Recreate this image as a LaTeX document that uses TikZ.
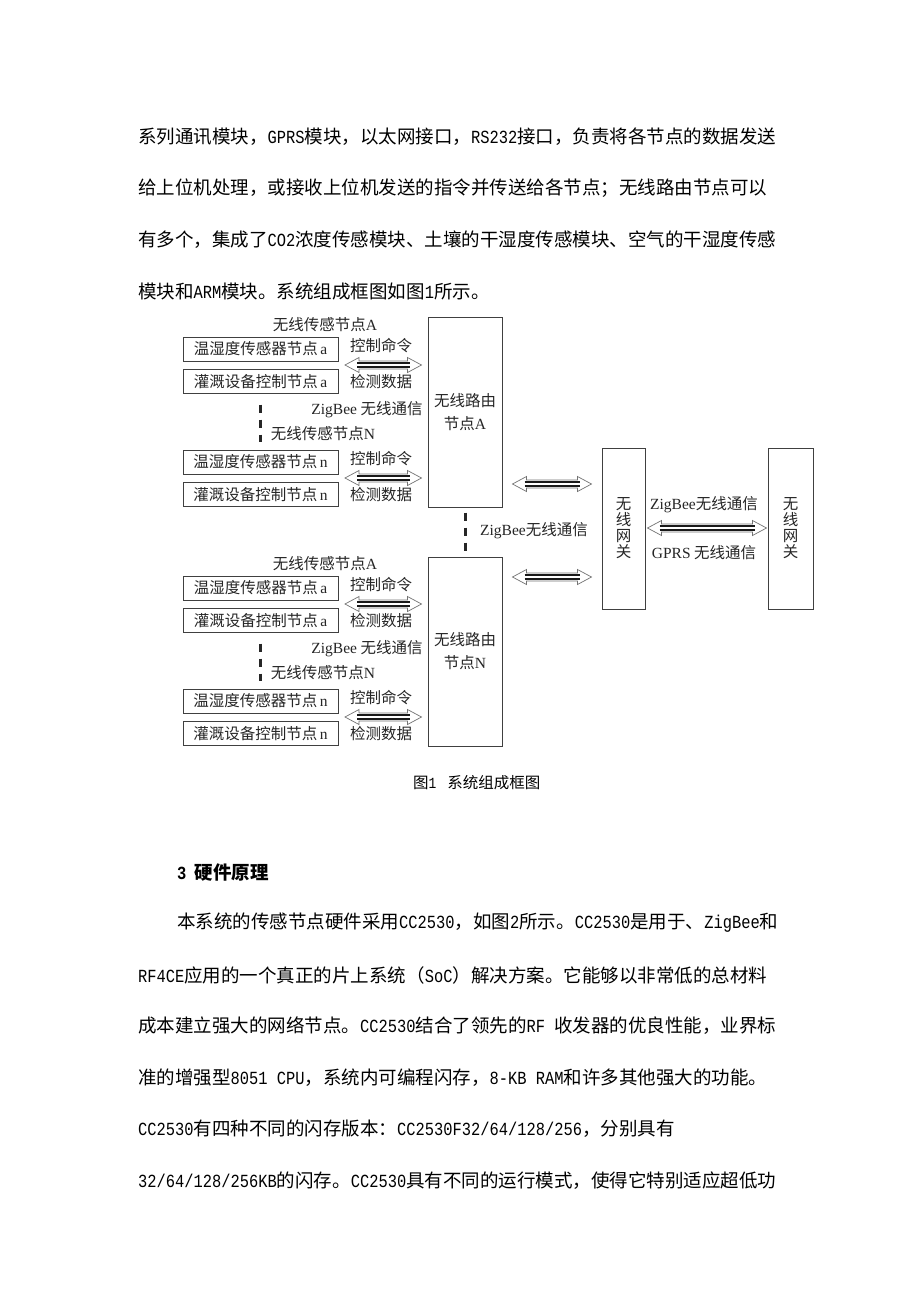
\documentclass[tikz,border=0pt]{standalone}
\usepackage{fontspec}
\setmainfont{Noto Sans CJK SC}
\newfontfamily\lat{Liberation Serif}
\newfontfamily\mono{Liberation Mono}[FakeStretch=0.833]
\usetikzlibrary{calc}
\newcommand\hw[1]{{\mono #1}}
\newcommand\dArrow[2]{%
  \draw[arrowout] (#1) -- ($(#1)+(14,7.5)$) -- ($(#1)+(14,4)$) -- ($(#2)+(-14,4)$) -- ($(#2)+(-14,7.5)$) -- (#2)
     -- ($(#2)+(-14,-7.5)$) -- ($(#2)+(-14,-4)$) -- ($(#1)+(14,-4)$) -- ($(#1)+(14,-7.5)$) -- cycle;
  \draw[arrowbar] ($(#1)+(12,2.2)$) -- ($(#2)+(-12,2.2)$);
  \draw[arrowbar] ($(#1)+(12,-2.2)$) -- ($(#2)+(-12,-2.2)$);
}
\newcommand\SensorGroup[3]{%
  \node[lbl] (#1la) at (325,325+#2) {无线传感节点\lat A};
  \node[sbox] (#1a1) at (260.5,349+#2) {温湿度传感器节点\,\lat a};
  \node[sbox] (#1a2) at (260.5,381.5+#2) {灌溉设备控制节点\,\lat a};
  \node[lbl] (#1c1) at (381,346+#2) {控制命令};
  \node[lbl] (#1d1) at (381,382+#2) {检测数据};
  \coordinate (#1p1) at (345,365+#2);
  \coordinate (#1q1) at ($(#3.west |- #1p1)+(-6,0)$);
  \dArrow{#1p1}{#1q1}
  \node[lbl] (#1zb) at (367,410+#2) {{\lat ZigBee} 无线通信};
  \node[lbl] (#1ln) at (323,434+#2) {无线传感节点\lat N};
  \node[sbox] (#1n1) at (260.5,462+#2) {温湿度传感器节点\,\lat n};
  \node[sbox] (#1n2) at (260.5,494.5+#2) {灌溉设备控制节点\,\lat n};
  \node[lbl] (#1c2) at (381,459+#2) {控制命令};
  \node[lbl] (#1d2) at (381,495+#2) {检测数据};
  \coordinate (#1p2) at (345,478+#2);
  \coordinate (#1q2) at ($(#3.west |- #1p2)+(-6,0)$);
  \dArrow{#1p2}{#1q2}
  \coordinate (#1ds) at ($(#1a2.south)+(0,10.5)$);
  \coordinate (#1de) at ($(#1n1.north)+(0,-8)$);
  \draw[thickdash] (#1ds) -- (#1de);
}
\begin{document}
\begin{tikzpicture}[x=1pt,y=-1pt,
  body/.style={anchor=west,inner sep=0pt,font=\fontsize{18.5}{18.5}\selectfont},
  lbl/.style={inner sep=0pt,text=black!85,font=\fontsize{15.5}{18}\selectfont},
  sbox/.style={draw=black!75,line width=1pt,minimum width=155pt,minimum height=24pt,inner sep=0pt,text=black!85,font=\fontsize{15.5}{18}\selectfont},
  bigbox/.style={draw=black!75,line width=1pt,inner sep=0pt,align=center,text=black!85},
  arrowout/.style={draw=black!55,line width=0.7pt,fill=white,line join=miter},
  arrowbar/.style={draw=black!90,line width=1.6pt},
  thickdash/.style={draw=black!85,line width=3pt,dash pattern=on 8pt off 7pt}]
\useasboundingbox (0,0) rectangle (920,1302);
\fill[white] (0,0) rectangle (920,1302);
% body text
\node[body] (t1) at (138,137) {系列通讯模块，\hw{GPRS}模块，以太网接口，\hw{RS232}接口，负责将各节点的数据发送};
\node[body] (t2) at (138,188) {给上位机处理，或接收上位机发送的指令并传送给各节点；无线路由节点可以};
\node[body] (t3) at (138,240) {有多个，集成了\hw{CO2}浓度传感模块、土壤的干湿度传感模块、空气的干湿度传感};
\node[body] (t4) at (138,291) {模块和\hw{ARM}模块。系统组成框图如图\hw{1}所示。};
% routers
\node[bigbox,minimum width=74pt,minimum height=190pt,font=\fontsize{15.5}{23}\selectfont] (rA) at (465,412) {无线路由\\节点\lat A};
\node[bigbox,minimum width=74pt,minimum height=189pt,font=\fontsize{15.5}{23}\selectfont] (rN) at (465,651.5) {无线路由\\节点\lat N};
\SensorGroup{u}{0}{rA}
\SensorGroup{l}{239}{rN}
% router link
\coordinate (rs) at ($(rA.south)+(0,5)$);
\coordinate (re) at ($(rN.north)+(0,-5)$);
\draw[thickdash] (rs) -- (re);
\node[lbl] (rzb) at (534,531) {{\lat ZigBee}无线通信};
% gateways
\node[bigbox,minimum width=43pt,minimum height=161pt,font=\fontsize{15.5}{16}\selectfont] (g1) at (623.5,528.5) {无\\线\\网\\关};
\node[bigbox,minimum width=45pt,minimum height=161pt,font=\fontsize{15.5}{16}\selectfont] (g2) at (790.5,528.5) {无\\线\\网\\关};
\coordinate (ga1) at ($(rA.east |- 0,484)+(10,0)$);
\coordinate (gb1) at ($(g1.west |- 0,484)+(-10,0)$);
\dArrow{ga1}{gb1}
\coordinate (ga2) at ($(rN.east |- 0,577)+(10,0)$);
\coordinate (gb2) at ($(g1.west |- 0,577)+(-10,0)$);
\dArrow{ga2}{gb2}
\coordinate (gg1) at ($(g1.east |- 0,528)+(2,0)$);
\coordinate (gg2) at ($(g2.west |- 0,528)+(-1,0)$);
\dArrow{gg1}{gg2}
\node[lbl] (gz) at (704,505) {{\lat ZigBee}无线通信};
\node[lbl] (gp) at (704,553) {{\lat GPRS} 无线通信};
% caption
\node[anchor=west,inner sep=0pt,font=\fontsize{15.5}{15.5}\selectfont] (cap) at (413,783) {图\hw{1}\hspace{0.7em}系统组成框图};
% section
\node[body,font=\fontsize{18.5}{18.5}\selectfont\bfseries] (h3) at (177,873) {\hw{3}\hspace{0.45em}硬件原理};
\node[body] (p1) at (177,923) {本系统的传感节点硬件采用\hw{CC2530}，如图\hw{2}所示。\hw{CC2530}是用于、\hw{ZigBee}和};
\node[body] (p2) at (138,975) {\hw{RF4CE}应用的一个真正的片上系统（\hw{SoC}）解决方案。它能够以非常低的总材料};
\node[body] (p3) at (138,1026) {成本建立强大的网络节点。\hw{CC2530}结合了领先的\hw{RF }收发器的优良性能，业界标};
\node[body] (p4) at (138,1078) {准的增强型\hw{8051 CPU}，系统内可编程闪存，\hw{8-KB RAM}和许多其他强大的功能。};
\node[body] (p5) at (138,1129) {\hw{CC2530}有四种不同的闪存版本：\hw{CC2530F32/64/128/256}，分别具有};
\node[body] (p6) at (138,1181) {\hw{32/64/128/256KB}的闪存。\hw{CC2530}具有不同的运行模式，使得它特别适应超低功};
\end{tikzpicture}
\end{document}
